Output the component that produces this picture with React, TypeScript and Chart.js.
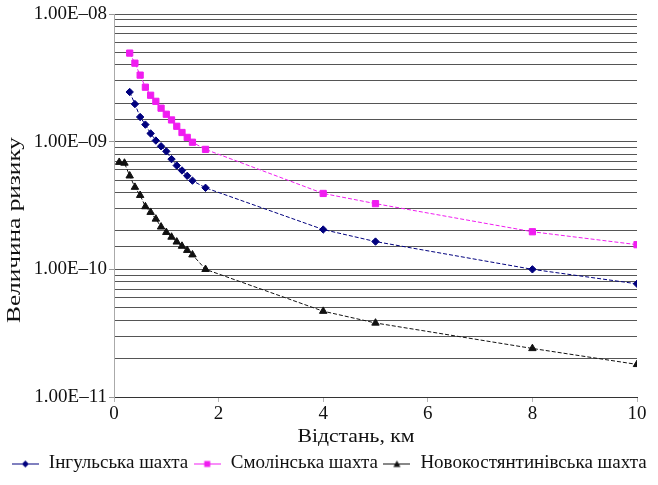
import React, { useEffect, useRef } from 'react';
import { Chart, registerables } from 'chart.js';

Chart.register(...registerables);

const FONT = "'Liberation Serif', 'Times New Roman', Times, serif";

// ---- data ----
const seriesNames = ['Інгульська шахта', 'Смолінська шахта', 'Новокостянтинівська шахта'];

const distIngul = [0.3, 0.4, 0.5, 0.6, 0.7, 0.8, 0.9, 1.0, 1.1, 1.2, 1.3, 1.4, 1.5, 1.75, 4, 5, 8, 10];
const riskIngul = [
  2.45e-9, 1.97e-9, 1.56e-9, 1.36e-9, 1.16e-9, 1.02e-9, 9.2e-10, 8.4e-10, 7.3e-10, 6.5e-10,
  5.95e-10, 5.4e-10, 4.95e-10, 4.35e-10, 2.05e-10, 1.65e-10, 1.0e-10, 7.7e-11,
];

const distSmolin = [0.3, 0.4, 0.5, 0.6, 0.7, 0.8, 0.9, 1.0, 1.1, 1.2, 1.3, 1.4, 1.5, 1.75, 4, 5, 8, 10];
const riskSmolin = [
  4.94e-9, 4.12e-9, 3.32e-9, 2.67e-9, 2.31e-9, 2.07e-9, 1.83e-9, 1.64e-9, 1.48e-9, 1.32e-9,
  1.18e-9, 1.08e-9, 9.9e-10, 8.7e-10, 3.93e-10, 3.27e-10, 1.97e-10, 1.56e-10,
];

const distNovo = [0.1, 0.2, 0.3, 0.4, 0.5, 0.6, 0.7, 0.8, 0.9, 1.0, 1.1, 1.2, 1.3, 1.4, 1.5, 1.75, 4, 5, 8, 10];
const riskNovo = [
  6.9e-10, 6.8e-10, 5.4e-10, 4.4e-10, 3.8e-10, 3.1e-10, 2.8e-10, 2.48e-10, 2.15e-10, 1.95e-10,
  1.79e-10, 1.64e-10, 1.52e-10, 1.41e-10, 1.3e-10, 1.0e-10, 4.7e-11, 3.8e-11, 2.4e-11, 1.8e-11,
];

const xTickValues = [0, 2, 4, 6, 8, 10];
const yDecades = [1e-11, 1e-10, 1e-9, 1e-8];
const yTickLabels = ['1.00E–11', '1.00E–10', '1.00E–09', '1.00E–08'];
const xTitle = 'Відстань, км';
const yTitle = 'Величина ризику';

const colors = ['#00007e', '#f01cf0', '#111111'];
const markerStyles = ['rectRot', 'rect', 'triangle'];

function decadeIndex(v: number): number {
  return yDecades.findIndex((d) => Math.abs(Math.log10(d) - Math.log10(v)) < 1e-6);
}

function makeLegendSymbol(color: string, style: string): HTMLCanvasElement {
  const c = document.createElement('canvas');
  c.width = 27;
  c.height = 12;
  const ctx = c.getContext('2d')!;
  ctx.strokeStyle = color;
  ctx.lineWidth = 1;
  ctx.beginPath();
  ctx.moveTo(0, 6.5);
  ctx.lineTo(27, 6.5);
  ctx.stroke();
  ctx.fillStyle = color;
  ctx.beginPath();
  const cx = 13.5;
  const cy = 6.5;
  if (style === 'rectRot') {
    ctx.moveTo(cx - 3.5, cy);
    ctx.lineTo(cx, cy - 3.5);
    ctx.lineTo(cx + 3.5, cy);
    ctx.lineTo(cx, cy + 3.5);
  } else if (style === 'rect') {
    ctx.rect(cx - 3, cy - 3, 6, 6);
  } else {
    ctx.moveTo(cx - 3.5, cy + 3);
    ctx.lineTo(cx, cy - 3.5);
    ctx.lineTo(cx + 3.5, cy + 3);
  }
  ctx.closePath();
  ctx.fill();
  return c;
}

// Axis titles drawn with the slightly stretched look of the original figure
const axisTitlePlugin = {
  id: 'axisTitles',
  afterDraw(chart: any) {
    const { ctx } = chart;
    ctx.save();
    ctx.font = `19px ${FONT}`;
    ctx.fillStyle = '#111';
    ctx.textAlign = 'center';
    ctx.textBaseline = 'middle';
    // y title
    ctx.save();
    ctx.translate(15, 230);
    ctx.rotate(-Math.PI / 2);
    const wy = ctx.measureText(yTitle).width;
    ctx.scale(186 / wy, 1);
    ctx.fillText(yTitle, 0, 0);
    ctx.restore();
    // x title
    ctx.save();
    ctx.translate(356, 437);
    const wx = ctx.measureText(xTitle).width;
    ctx.scale(117 / wx, 1);
    ctx.fillText(xTitle, 0, 0);
    ctx.restore();
    ctx.restore();
  },
};

export default function App() {
  const ref = useRef<HTMLCanvasElement>(null);

  useEffect(() => {
    document.body.style.margin = '0';
    const canvas = ref.current!;
    Chart.defaults.font.family = FONT;

    const pairs = [
      [distIngul, riskIngul],
      [distSmolin, riskSmolin],
      [distNovo, riskNovo],
    ];
    const radii = [3.7, 4.4, 4.3];

    const datasets = pairs.map(([xs, ys], i) => ({
      label: seriesNames[i],
      data: xs.map((x, j) => ({ x, y: ys[j] })),
      borderColor: colors[i],
      backgroundColor: colors[i],
      borderWidth: 1,
      borderDash: [4, 2],
      pointStyle: markerStyles[i] as any,
      pointRadius: radii[i],
      pointBorderWidth: 1,
      pointBorderColor: colors[i],
      pointBackgroundColor: colors[i],
      tension: 0,
      showLine: true,
      fill: false,
    }));

    const symbols = colors.map((c, i) => makeLegendSymbol(c, markerStyles[i]));

    const chart = new Chart(canvas, {
      type: 'scatter',
      data: { datasets },
      plugins: [axisTitlePlugin],
      options: {
        animation: false,
        responsive: false,
        devicePixelRatio: 1,
        layout: { padding: { left: 0, right: 0, top: 14, bottom: 2 } },
        plugins: {
          tooltip: { enabled: false },
          legend: {
            position: 'bottom',
            labels: {
              font: { family: FONT, size: 19 },
              color: '#111',
              padding: 5,
              usePointStyle: true,
              pointStyleWidth: 28,
              generateLabels: (ch: any) => {
                const items = (Chart.defaults.plugins.legend.labels as any).generateLabels(ch);
                items.forEach((it: any, i: number) => {
                  it.pointStyle = symbols[i];
                  it.rotation = 0;
                });
                return items;
              },
            },
          },
        },
        scales: {
          x: {
            type: 'linear',
            min: 0,
            max: 10,
            afterFit: (s: any) => {
              s.height = 52;
            },
            afterBuildTicks: (s: any) => {
              s.ticks = xTickValues.map((v) => ({ value: v }));
            },
            ticks: {
              autoSkip: false,
              maxRotation: 0,
              padding: 1,
              color: '#111',
              font: { family: FONT, size: 19 },
              callback: (v: any) => String(v),
            },
            grid: {
              drawOnChartArea: false,
              drawTicks: true,
              tickLength: 5,
              tickColor: '#b5b5b5',
              color: '#b5b5b5',
            },
            border: { display: true, color: '#333' },
            title: { display: false },
          },
          y: {
            type: 'logarithmic',
            min: 1e-11,
            max: 1e-8,
            afterFit: (s: any) => {
              s.width = 114;
            },
            ticks: {
              autoSkip: false,
              padding: 2,
              color: '#111',
              font: { family: FONT, size: 19 },
              callback: (v: any) => {
                const i = decadeIndex(Number(v));
                return i >= 0 ? yTickLabels[i] : '';
              },
            },
            grid: {
              color: '#555',
              lineWidth: 1,
              drawTicks: true,
              tickLength: 5,
              tickColor: (ctx: any) =>
                ctx.tick && decadeIndex(ctx.tick.value) >= 0 ? '#999' : 'rgba(0,0,0,0)',
            },
            border: { display: true, color: '#aaa' },
            title: { display: false },
          },
          // empty right-hand spacer axis that keeps the plot's right margin
          ySpacer: {
            type: 'linear',
            position: 'right',
            display: true,
            afterFit: (s: any) => {
              s.width = 21;
            },
            ticks: { display: false },
            grid: { display: false, drawOnChartArea: false },
            border: { display: false },
            title: { display: false },
          },
        },
      },
    } as any);

    return () => chart.destroy();
  }, []);

  return (
    <div style={{ width: 658, height: 485 }}>
      <canvas ref={ref} width={658} height={485} style={{ display: 'block', width: 658, height: 485 }} />
    </div>
  );
}
